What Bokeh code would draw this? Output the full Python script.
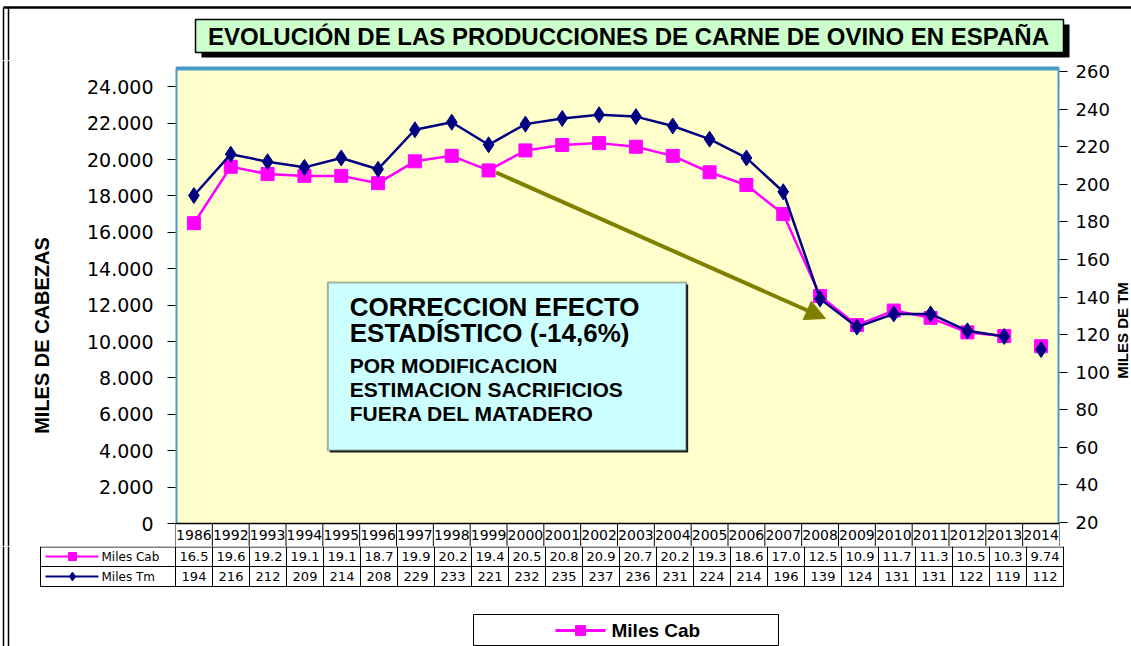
from math import pi
from bokeh.plotting import figure
from bokeh.layouts import column, row
from bokeh.models import (ColumnDataSource, Range1d, LinearAxis, FixedTicker, Label,
                          BoxAnnotation, Arrow, NormalHead)
from bokeh.core.properties import value
from bokeh.embed import file_html
from bokeh.resources import INLINE

# ---------------- data ----------------
years = ["1986", "1992", "1993", "1994", "1995", "1996", "1997", "1998", "1999", "2000",
         "2001", "2002", "2003", "2004", "2005", "2006", "2007", "2008", "2009", "2010",
         "2011", "2012", "2013", "2014"]
miles_cab = [16.5, 19.6, 19.2, 19.1, 19.1, 18.7, 19.9, 20.2, 19.4, 20.5, 20.8, 20.9,
             20.7, 20.2, 19.3, 18.6, 17.0, 12.5, 10.9, 11.7, 11.3, 10.5, 10.3, 9.74]
miles_tm = [194, 216, 212, 209, 214, 208, 229, 233, 221, 232, 235, 237,
            236, 231, 224, 214, 196, 139, 124, 131, 131, 122, 119, 112]
left_ticks = [0, 2000, 4000, 6000, 8000, 10000, 12000, 14000, 16000, 18000, 20000, 22000, 24000]
left_tick_labels = ["0", "2.000", "4.000", "6.000", "8.000", "10.000", "12.000", "14.000",
                    "16.000", "18.000", "20.000", "22.000", "24.000"]
right_ticks = [20, 40, 60, 80, 100, 120, 140, 160, 180, 200, 220, 240, 260]
title_text = "EVOLUCIÓN DE LAS PRODUCCIONES DE CARNE DE OVINO EN ESPAÑA"
note_big = ["CORRECCION EFECTO", "ESTADÍSTICO (-14,6%)"]
note_small = ["POR MODIFICACION", "ESTIMACION SACRIFICIOS", "FUERA DEL MATADERO"]
series_names = ["Miles Cab", "Miles Tm"]
left_title = "MILES DE CABEZAS"
right_title = "MILES DE TM"

CAB_COLOR = "#ff00ff"
TM_COLOR = "#000080"
OLIVE = "#808000"

# ---------------- layout geometry (page pixels) ----------------
PW, PH = 1131, 646
FL, FR = 175, 1063            # plot area left / right
PT, PB = 68, 523              # plot area top / bottom (yellow area)
TOP_H = 60                    # title strip bottom
MID_B = 546                   # middle strip bottom (end of the year row)
LAB_R = 60                    # left-title strip right edge
RLAB_L = 1112                 # right-title strip left edge
N = len(years)
PXC = (FR - FL) / N
YMAX = 25000
R0, R1, R2, R3 = 523, 546, 566, 586   # table row lines
KL = 40                                # table key column left edge
FRAME_X = [3, 8]                       # outer double frame (left)
FRAME_TOP = 7


def xd(px):            # page x pixel -> category coordinate
    return -0.5 + (px - FL) / PXC


def yL(py):            # page y pixel -> left axis units
    return (PB - py) * YMAX / (PB - PT)


def yR(py):            # page y pixel -> right axis units
    return 20 + (522 - py) * 240 / (522 - 71)


def blank(w, h, xr, yr):
    f = figure(width=w, height=h, x_range=xr, y_range=yr, output_backend="svg",
               toolbar_location=None, x_axis_location=None, y_axis_location=None,
               min_border=0, min_border_left=0, min_border_right=0,
               min_border_top=0, min_border_bottom=0)
    f.outline_line_color = None
    f.xgrid.visible = False
    f.ygrid.visible = False
    f.background_fill_color = "white"
    f.border_fill_color = "white"
    return f


def outer_frame(f, y0, y1, to_data_x=lambda v: v):
    f.segment(x0=[to_data_x(v) for v in FRAME_X], y0=[y0, y0],
              x1=[to_data_x(v) for v in FRAME_X], y1=[y1, y1], line_color="black", line_width=1.5)


# ---------------- title strip ----------------
tf = blank(PW, TOP_H, Range1d(0, PW), Range1d(TOP_H, 0))
tf.segment(x0=[FRAME_X[0]], y0=[FRAME_TOP], x1=[PW], y1=[FRAME_TOP], line_color="black",
           line_width=2.5)
outer_frame(tf, FRAME_TOP, TOP_H)
tf.quad(left=[201], right=[1069], top=[24], bottom=[57], fill_color="black", line_color=None)
tf.quad(left=[195], right=[1063], top=[19], bottom=[52], fill_color="#ccffcc",
        line_color="black", line_width=1.5)
tf.text(x=[628], y=[36], text=[title_text], text_align="center", text_baseline="middle",
        text_font=value("Liberation Sans"), text_font_style="bold",
        text_font_size=value("24px"), text_color="black")

# ---------------- left / right title strips ----------------
lf = blank(LAB_R, MID_B - TOP_H, Range1d(0, LAB_R), Range1d(MID_B, TOP_H))
outer_frame(lf, TOP_H, MID_B)
lf.text(x=[41], y=[335], text=[left_title], angle=pi / 2, text_align="center",
        text_baseline="middle", text_font=value("Liberation Sans"), text_font_style="bold",
        text_font_size=value("20px"), text_color="black")

rf = blank(PW - RLAB_L, MID_B - TOP_H, Range1d(RLAB_L, PW), Range1d(MID_B, TOP_H))
rf.text(x=[(RLAB_L + PW) / 2], y=[330], text=[right_title], angle=pi / 2, text_align="center",
        text_baseline="middle", text_font=value("Liberation Sans"), text_font_style="bold",
        text_font_size=value("15px"), text_color="black")

# ---------------- main plot ----------------
p = figure(width=RLAB_L - LAB_R, height=MID_B - TOP_H, x_range=Range1d(-0.5, N - 0.5),
           y_range=Range1d(yL(MID_B), yL(TOP_H)),
           output_backend="svg", toolbar_location=None, x_axis_location=None,
           y_axis_location="left",
           min_border_left=FL - LAB_R, min_border_right=RLAB_L - FR,
           min_border_top=0, min_border_bottom=0)
p.background_fill_color = "white"
p.border_fill_color = "white"
p.outline_line_color = None

p.add_layout(BoxAnnotation(left=-0.5, right=N - 0.5, bottom=0, top=YMAX,
                           fill_color="#ffffcc", fill_alpha=1, line_color=None, level="underlay"))

ya = p.yaxis[0]
ya.ticker = FixedTicker(ticks=left_ticks)
ya.major_label_overrides = {t: l for t, l in zip(left_ticks, left_tick_labels)}
ya.minor_tick_line_color = None
ya.major_tick_in = 0
ya.major_tick_out = 8
ya.major_tick_line_color = "black"
ya.axis_line_color = None
ya.major_label_standoff = 14
ya.major_label_text_font = "DejaVu Sans"
ya.major_label_text_font_size = "19px"
ya.major_label_text_color = "black"

p.ygrid.grid_line_color = "black"
p.ygrid.grid_line_dash = "6 3"
p.ygrid.grid_line_width = 1
p.xgrid.visible = False

p.extra_y_ranges = {"tm": Range1d(yR(MID_B), yR(TOP_H))}
ra = LinearAxis(y_range_name="tm", ticker=FixedTicker(ticks=right_ticks))
ra.minor_tick_line_color = None
ra.major_tick_in = 0
ra.major_tick_out = 8
ra.major_tick_line_color = "black"
ra.axis_line_color = None
ra.major_label_standoff = 8
ra.major_label_text_font = "DejaVu Sans"
ra.major_label_text_font_size = "18px"
ra.major_label_text_color = "black"
p.add_layout(ra, "right")

# plot-area border (blue left/right/top) and table top line
p.segment(x0=[-0.5, N - 0.5, -0.5], y0=[0, 0, YMAX], x1=[-0.5, N - 0.5, N - 0.5],
          y1=[YMAX, YMAX, YMAX], line_color="#4a9cc8", line_width=4)
p.segment(x0=[-0.5], y0=[0], x1=[N - 0.5], y1=[0], line_color="black", line_width=1.5)
# table year row: column lines and labels
p.segment(x0=[k - 0.5 for k in range(N + 1)], y0=[0] * (N + 1),
          x1=[k - 0.5 for k in range(N + 1)], y1=[yL(MID_B)] * (N + 1),
          line_color="black", line_width=1)
idx = list(range(N))
p.text(x=idx, y=[yL((R0 + R1) / 2)] * N, text=years, text_align="center", text_baseline="middle",
       text_font=value("DejaVu Sans"), text_font_size=value("14px"), text_color="black")

src = ColumnDataSource(dict(x=idx, cab=[v * 1000 for v in miles_cab], tm=miles_tm))
# 2014 appears as an isolated point (no connecting segment)
line_src = ColumnDataSource(dict(x=idx[:-1], cab=[v * 1000 for v in miles_cab[:-1]],
                                 tm=miles_tm[:-1]))
p.line("x", "cab", source=line_src, color=CAB_COLOR, line_width=2.5)
p.scatter("x", "cab", source=src, marker="square", size=13, color=CAB_COLOR)
p.line("x", "tm", source=line_src, color=TM_COLOR, line_width=2.5, y_range_name="tm")
p.scatter("x", "tm", source=src, marker="diamond", size=16, color=TM_COLOR, y_range_name="tm")

# note box + arrow
p.add_layout(BoxAnnotation(left=xd(330), right=xd(690), top=yL(284), bottom=yL(452),
                           fill_color="#222222", fill_alpha=1, line_color=None))
p.add_layout(BoxAnnotation(left=xd(328), right=xd(688), top=yL(282), bottom=yL(450),
                           fill_color="#ccffff", fill_alpha=1, line_color="black", line_width=2))
for txt, cy in zip(note_big, [306, 332]):
    p.add_layout(Label(x=xd(350), y=yL(cy), text=txt, text_align="left", text_baseline="middle",
                       text_font="Liberation Sans", text_font_style="bold",
                       text_font_size="26px", text_color="black"))
for txt, cy in zip(note_small, [365, 389, 413]):
    p.add_layout(Label(x=xd(350), y=yL(cy), text=txt, text_align="left", text_baseline="middle",
                       text_font="Liberation Sans", text_font_style="bold",
                       text_font_size="21px", text_color="black"))
p.add_layout(Arrow(end=NormalHead(size=20, fill_color=OLIVE, line_color=OLIVE),
                   x_start=xd(497), y_start=yL(172), x_end=xd(828), y_end=yL(318),
                   line_color=OLIVE, line_width=4))

# ---------------- table strip ----------------
bf = blank(PW, PH - MID_B, Range1d(xd(0), xd(PW)), Range1d(PH, MID_B))
outer_frame(bf, MID_B, PH, xd)
bf.segment(x0=[xd(KL)] * 3, y0=[R1 + 0.5, R2, R3], x1=[N - 0.5] * 3, y1=[R1 + 0.5, R2, R3],
           line_color="black", line_width=1)
bf.segment(x0=[k - 0.5 for k in range(N + 1)], y0=[MID_B] * (N + 1),
           x1=[k - 0.5 for k in range(N + 1)], y1=[R3] * (N + 1), line_color="black", line_width=1)
bf.segment(x0=[xd(KL)], y0=[R1], x1=[xd(KL)], y1=[R3], line_color="black", line_width=1)

cab_txt = [format(v, "#.3g") for v in miles_cab]
tm_txt = [str(v) for v in miles_tm]
tbl = ColumnDataSource(dict(x=idx, y_cab=[(R1 + R2) / 2] * N, y_tm=[(R2 + R3) / 2] * N,
                            cab=cab_txt, tm=tm_txt))
for ycol, tcol in [("y_cab", "cab"), ("y_tm", "tm")]:
    bf.text(x="x", y=ycol, text=tcol, source=tbl, text_align="center", text_baseline="middle",
            text_font=value("DejaVu Sans"), text_font_size=value("13px"), text_color="black")

for name, color, cy, mk, ms in [(series_names[0], CAB_COLOR, (R1 + R2) / 2, "square", 8),
                                (series_names[1], TM_COLOR, (R2 + R3) / 2, "diamond", 9)]:
    bf.segment(x0=[xd(45)], y0=[cy], x1=[xd(98)], y1=[cy], line_color=color, line_width=2)
    bf.scatter(x=[xd(72)], y=[cy], marker=mk, size=ms, color=color)
    bf.text(x=[xd(101)], y=[cy], text=[name], text_align="left", text_baseline="middle",
            text_font=value("DejaVu Sans"), text_font_size=value("12px"), text_color="black")

# bottom legend
bf.quad(left=[xd(473)], right=[xd(778)], top=[614], bottom=[645], fill_color="white",
        line_color="black", line_width=1)
bf.segment(x0=[xd(555)], y0=[630], x1=[xd(605)], y1=[630], line_color=CAB_COLOR, line_width=3)
bf.scatter(x=[xd(580)], y=[630], marker="square", size=10, color=CAB_COLOR)
bf.text(x=[xd(611)], y=[630], text=[series_names[0]], text_align="left", text_baseline="middle",
        text_font=value("Liberation Sans"), text_font_style="bold",
        text_font_size=value("19px"), text_color="black")

layout = column(tf, row(lf, p, rf), bf)
open("out.html", "w").write(file_html(layout, INLINE))
